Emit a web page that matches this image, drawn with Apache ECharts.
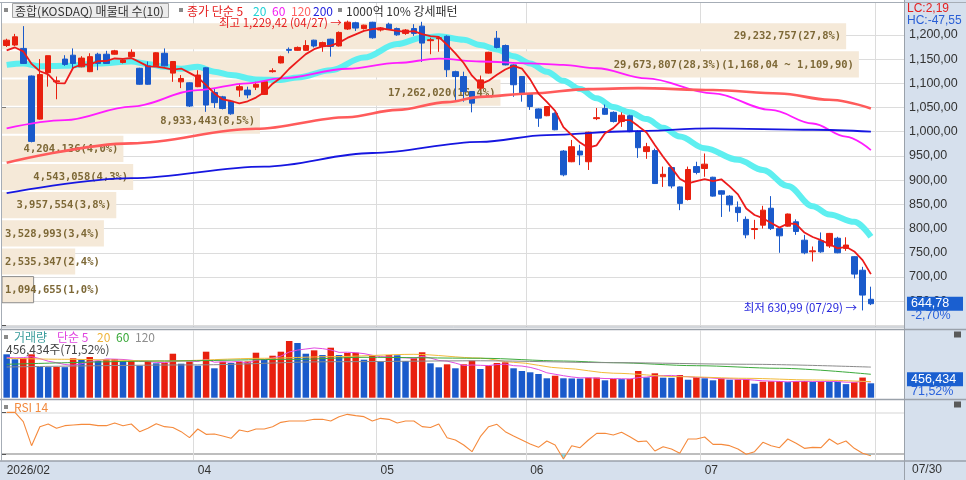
<!DOCTYPE html>
<html><head><meta charset="utf-8">
<script src="https://cdn.jsdelivr.net/npm/echarts@6/dist/echarts.min.js"></script>
<style>html,body{margin:0;padding:0;background:#fff}#c{width:966px;height:480px}</style>
</head><body><div id="c"></div>
<script>
// ---------------- DATA ----------------
const febDays = [26,27];
const marDays = [3,4,5,6,9,10,11,12,13,16,17,18,19,20,23,24,25,26,27,30,31];
const aprDays = [1,2,3,6,7,8,9,10,13,14,15,16,17,20,21,22,23,24,27,28,29,30];
const mayDays = [4,6,7,8,11,12,13,14,15,18,19,20,21,22,26,27,28,29];
const junDays = [1,2,4,5,8,9,10,11,12,15,16,17,18,19,22,23,24,25,26,29,30];
const julDays = [1,2,3,6,7,8,9,10,13,14,15,16,20,21,22,23,24,27,28,29,30];

const opens = [1178,1179,1172,1115,1026,1122,1103,1150,1158,1134, 1124,1160,1160,1160,1143,1155,1131,1136,1136,1162,
 1121,1103,1101,1093,1132,1081,1072,1063,1086,1086, 1092,1077,1124,1142,1170,1168,1168,1189,1176,1191,
 1177,1212,1225,1213,1226,1210,1222,1213,1203,1213, 1218,1188,1192,1197,1124,1114,1083,1090,1121,1193,
 1178,1138,1114,1077,1047,1033,1038,960,938,960, 938,1027,1048,1040,1021,1033,1001,959,961,907,
 926,886,860,928,924,906,878,867,844,819, 798,807,842,800,805,814,776,752,775,764, 780,759,742,714,654];
const highs = [1192,1202,1218,1116,1150,1157,1114,1158,1172,1156, 1162,1163,1167,1169,1150,1170,1132,1145,1164,1172,
 1146,1117,1102,1127,1133,1090,1074,1064,1100,1093, 1103,1105,1131,1157,1174,1176,1189,1190,1186,1192,
 1207,1229.42,1227,1221,1227,1216,1225,1215,1212,1222, 1227,1194,1197,1199,1126,1124,1084,1116,1165,1208,
 1180,1139,1115,1078,1048,1053,1040,962,983,973, 1000,1049,1056,1042,1040,1035,1003,977,965,928,
 928,887,928,938,955,907,879,869,856,825, 818,847,867,801,831,819,787,763,792,791, 783,782,743,721,680];
const lows = [1175,1177,1140,978,1025,1093,1067,1136,1129,1133, 1123,1127,1140,1159,1141,1154,1097,1097,1134,1135,
 1103,1090,1051,1092,1041,1049,1046,1035,1072,1069, 1086,1076,1122,1141,1162,1167,1167,1174,1165,1155,
 1176,1210,1208,1211,1192,1207,1210,1198,1200,1198, 1144,1160,1165,1113,1063,1062,1040,1086,1120,1172,
 1137,1072,1062,1045,1010,1032,1003,908,937,931, 921,1024,1035,1019,1010,999,946,944,892,886,
 883,838,858,912,907,866,824,835,814,780, 778,800,797,750,804,787,747,732,750,760, 749,754,697,630.99,642];
const closes = [1189,1196,1141,980,1118,1157,1105,1139,1141,1152, 1155,1141,1141,1167,1148,1164,1098,1098,1163,1136,
 1145,1110,1053,1117,1055,1060,1048,1037,1093,1076, 1098,1103,1126,1155,1168,1174,1178,1177,1184,1176,
 1205,1226.18,1214,1220,1194,1214,1212,1200,1210,1203, 1183,1190,1194,1128,1114,1083,1059,1107,1164,1174,
 1138,1097,1079,1052,1028,1052,1004,911,969,952, 999,1029,1036,1021,1034,1000,967,969,893,912,
 888,852,922,916,933,867,871,849,833,787, 800,838,800,785,830,794,750,754,752,790, 750,766,706,662.67,644.78];

const volumes = [1375000,1217000,1249000,1375000,973000,970000,975000,968000,1249000,1217000,
 1290000,1163000,1217000,1225000,1163000,1170000,1014000,1163000,1090000,1110000,
 1394000,1078000,1141000,1014000,1458000,932000,1141000,1099000,1141000,1150000,
 1426000,1227000,1331000,1458000,1797000,1733000,1394000,1501000,1352000,1585000,
 1352000,1416000,1425000,1204000,1331000,1131000,1352000,1345000,1163000,1249000,
 1440000,1090000,963000,1058000,932000,1058000,1173000,909000,1014000,1099000,
 1122000,932000,846000,805000,751000,615000,697000,615000,610000,605000,
 634000,638000,551000,593000,590000,596000,846000,646000,773000,634000,
 630000,719000,570000,656000,615000,551000,615000,570000,575000,580000,
 444000,507000,520000,530000,500000,520000,530000,500000,520000,510000,
 500000,430000,490000,638190,456434];

const rsi14 = [70.2,70.2,59,30.2,53,56.2,51,54.2,55,55.8, 55.8,54.2,54.2,57.4,54.2,56.2,47,51,56.6,53,
 52,47,39.8,50.2,43.8,44.2,41.8,39,49,47, 50.2,50.2,53,58.2,59.8,59.8,60,61.8,61.8,59.8,
 65,67.8,66.2,65,59.8,63,61.8,57.5,59.8,59.8, 53,52,56.2,39.8,37,31,23,41,53,55.8,
 47,41.8,37,32.2,28.2,35.8,31,14.2,30.2,27.8, 37,45,45,43,46.2,41,35,35.8,23.8,29,
 26.2,21,38.2,38.2,40.6,31.8,31.8,30.2,26.2,19.8, 23,34.2,30.2,27.8,38.2,33,27,28.2,27.8,38.2,
 31.8,35.8,27,21,18.2];

// moving averages as [barIndex, value]
const ma5Head = [1168,1174,1166,1140];
const ma20Pts = [[0,1138],[2,1141],[4,1135],[7,1136],[11,1141],[15,1145],[17,1140],[19,1134],[21,1130],[23,1134],[25,1124],[27,1117],[30,1108],[33,1107],[35,1112],[39,1127],[43,1153],[47,1181],[50,1194],[52,1197],[55,1190],[57,1179],[59,1170],[61,1156],[63,1141],[65,1124],[67,1105],[69,1088],[71,1069],[73,1051],[75,1040],[77,1026],[79,1008],[81,990],[84,966],[88,942],[91,921],[94,888],[97,846],[99,829],[102,814],[104,783]];
const ma60Pts = [[0,1007],[7,1024],[15,1052],[23,1086],[29,1100],[33,1110],[41,1130],[47,1142],[52,1151],[57,1145],[63,1141],[67,1138],[71,1131],[77,1110],[85,1079],[92,1045],[97,1017],[101,990],[104,962]];
const ma120Pts = [[0,936],[15,976],[30,1006],[41,1030],[47,1045],[53,1061],[57,1072],[63,1079],[70,1088],[76,1090],[85,1086],[93,1079],[99,1066],[104,1048]];
const ma200Pts = [[0,873],[15,904],[31,928],[44,956],[57,979],[65,993],[75,1001],[85,1007],[97,1004],[104,1000]];

const volMa5Head = [1280000,1260000,1270000,1300000];
const volMa20Pts = [[0,1249000],[7,1217000],[19,1163000],[31,1249000],[39,1300000],[49,1375000],[57,1256000],[61,1121000],[67,932000],[73,776000],[81,666000],[89,614000],[97,562000],[104,508000]];
const volMa60Pts = [[0,1058000],[19,1163000],[35,1217000],[43,1280000],[57,1250000],[67,1163000],[73,1110000],[83,1014000],[93,932000],[104,742000]];
const volMa120Pts = [[0,973000],[23,1040000],[39,1140000],[57,1170000],[73,1110000],[89,1060000],[104,970000]];

// volume profile (매물대) : 10 price bands, top to bottom
const bandEdges = [1226.18,1168.04,1109.90,1051.76,993.62,935.48,877.34,819.20,761.06,702.92,644.78];
const bandVols = [29232757,29673807,17262020,8933443,4204136,4543058,3957554,3528993,2535347,1094655];

const priceTicks = [650,700,750,800,850,900,950,1000,1050,1100,1150,1200];
const RSI_HI = 70, RSI_MID = 50, RSI_LO = 20;

// ---------------- HELPERS ----------------
function fmtNum(v, d){
  const s = Math.abs(v).toFixed(d); const parts = s.split('.');
  const g = parts[0].replace(/\B(?=(\d{3})+(?!\d))/g, ',');
  return (v < 0 ? '-' : '') + g + (parts[1] ? ',' + parts[1] : '');
}
function movingAvg(src, n, head){
  return src.map((v,i)=>{ if (i < n-1) return head[i]; let s=0; for(let j=i-n+1;j<=i;j++) s+=src[j]; return +(s/n).toFixed(2); });
}
const mctx = document.createElement('canvas').getContext('2d');
function textW(s, font){ mctx.font = font; return mctx.measureText(s).width; }

const cats = [];
[[2,febDays],[3,marDays],[4,aprDays],[5,mayDays],[6,junDays],[7,julDays]].forEach(([m,days])=>{
  days.forEach(d=>cats.push('2026/' + String(m).padStart(2,'0') + '/' + String(d).padStart(2,'0')));
});
const N = cats.length;
const showMonth = []; let lastShown = -100;
cats.forEach((c,i)=>{
  const isStart = i===0 || c.slice(5,7)!==cats[i-1].slice(5,7);
  if (isStart && i-lastShown >= 8){ showMonth[i]=true; lastShown=i; } else showMonth[i]=false;
});

const RED = '#e8200e', BLUE = '#1a5acb';
const KF = '"Noto Sans CJK KR", sans-serif';
const NF = '"Liberation Sans", Arial, sans-serif';
const NFN = '"Liberation Sans Narrow", "Liberation Sans", Arial, sans-serif';
const VP_FONT = 'bold 10.5px "DejaVu Sans Mono", monospace';
const GRID_C = '#dcdcdc';

const ma5 = movingAvg(closes, 5, ma5Head);
const volMa5 = movingAvg(volumes, 5, volMa5Head);
const ohlc = opens.map((o,i)=>[o, closes[i], lows[i], highs[i]]);
const volData = volumes.map((v,i)=>({value:v, itemStyle:{color: (i>0 && v>volumes[i-1]) ? RED : BLUE}}));

const lastClose = closes[N-1], prevClose = closes[N-2];
const maxHigh = Math.max(...highs), iMax = highs.indexOf(maxHigh);
const minLow = Math.min(...lows), iMin = lows.indexOf(minLow);
const VP_TOTAL = bandVols.reduce((a,b)=>a+b,0);
const vpMaxK = bandVols.indexOf(Math.max(...bandVols));
let curK = 0; bandEdges.forEach((e,k)=>{ if (k<bandVols.length && lastClose<=bandEdges[k] && lastClose>=bandEdges[k+1]) curK=k; });
const VPMAX = Math.max(...bandVols)/0.95;

// layout
const PMIN = 596.76, PMAX = 1265.77, MAIN_TOP = 3, MAIN_H = 324;
const pxPer = MAIN_H/(PMAX-PMIN);
const G0top = MAIN_TOP + (PMAX-priceTicks[priceTicks.length-1])*pxPer;
const G0h = (priceTicks[priceTicks.length-1]-600)*pxPer;
const RMIN = 13, RMAX = 85, R_TOP = 400, R_H = 60;
const rPx = R_H/(RMAX-RMIN);
const G5top = R_TOP + (RMAX-RSI_HI)*rPx, G5h = (RSI_HI-RSI_LO)*rPx;
const V_TOP = 330.5, V_H = 67.2, VOLMAX = V_H*31690;

function mmdd(c){ return c.slice(5); }

function renderProfile(params, api){
  const v = api.value(0), top = api.value(1), bot = api.value(2), k = api.value(3);
  const p0 = api.coord([0, top]), p1 = api.coord([v, bot]);
  const x0 = p0[0], y0 = p0[1]+1, x1 = p1[0], y1 = p1[1]-1;
  const pct = (v/VP_TOTAL*100).toFixed(1).replace('.', ',');
  let label = fmtNum(v,0) + '(' + pct + '%)';
  if (k === vpMaxK) label += '(' + fmtNum(top,2) + ' ~ ' + fmtNum(bot,2) + ')';
  const w = textW(label, VP_FONT);
  const fits = w + 8 <= (x1-x0);
  const tx = fits ? x1-5 : x0+3;
  return {type:'group', children:[
    {type:'rect', shape:{x:x0, y:y0, width:x1-x0, height:y1-y0},
     style:{fill:'#f5e9d8', stroke: k===curK ? '#8c8c8c' : null, lineWidth:1}},
    {type:'text', style:{text:label, x:tx, y:(y0+y1)/2+0.5, font:VP_FONT, fill:'#7d6836',
      textAlign: fits?'right':'left', align: fits?'right':'left', textVerticalAlign:'middle', verticalAlign:'middle'}}
  ]};
}
function renderRsiFill(params, api){
  const i = api.value(0), a = api.value(1), b = api.value(2), t = RSI_LO;
  if (a >= t && b >= t) return null;
  const pa = api.coord([i, a]), pb = api.coord([i+1, b]);
  const yt = api.coord([i, t])[1];
  const lx = f => pa[0] + (pb[0]-pa[0])*f;
  let pts;
  if (a < t && b < t) pts = [[pa[0],yt], pa, pb, [pb[0],yt]];
  else if (a < t) { const f=(t-a)/(b-a); pts=[[pa[0],yt], pa, [lx(f),yt]]; }
  else { const f=(a-t)/(a-b); pts=[[lx(f),yt], pb, [pb[0],yt]]; }
  return {type:'polygon', shape:{points:pts}, style:{fill:'#72d0e2'}};
}

const catSplit = {show:true, interval:(i)=>showMonth[i] && i>0, lineStyle:{color:GRID_C, width:1}};
function catAxis(grid, labels){
  return {gridIndex:grid, type:'category', data:cats, boundaryGap:true,
    axisLine:{show:false}, axisTick:{show:false},
    axisLabel: labels ? {show:true, interval:(i)=>showMonth[i], align:'left', margin:5, color:'#333', fontSize:12, fontFamily:NF,
       formatter:(val,idx)=> idx===0 ? val.slice(0,7) : val.slice(5,7)} : {show:false},
    splitLine:catSplit};
}
function lineS(data, color, width, xi, yi, z, smooth){
  return {type:'line', xAxisIndex:xi, yAxisIndex:yi, data, symbol:'none', showSymbol:false, silent:true,
    smooth: smooth||false, smoothMonotone:'x', lineStyle:{color, width}, z};
}

// static graphics
function T(id, x, y, text, fill, size, family, align){
  return {type:'text', id, z:60, x, y, silent:true, style:{text, fill, font: size+'px '+family,
    textAlign:align||'left', align:align||'left', textVerticalAlign:'middle', verticalAlign:'middle'}};
}
function Ln(id, x1, y1, x2, y2, c, w){ return {type:'line', id, z:55, silent:true, shape:{x1,y1,x2,y2}, style:{stroke:c||'#a6adb6', lineWidth:w||1}}; }
function Rc(id, x, y, w, h, fill, stroke, z){ return {type:'rect', id, z: z===undefined?58:z, silent:true, shape:{x,y,width:w,height:h}, style:{fill, stroke:stroke||null, lineWidth:1}}; }

const lc = (lastClose-minLow)/minLow*100, hc = (lastClose-maxHigh)/maxHigh*100;
const chgPct = (lastClose-prevClose)/prevClose*100;
const volPct = volumes[N-1]/volumes[N-2]*100;

const graphics = [
  Rc('rs', 904.5, 0, 62, 480, '#d6e0ed', null, -20),
  Rc('bs', 0, 461, 966, 19, '#d6e0ed', null, -20),
  Ln('l1', 0, 2.5, 966, 2.5), Ln('l2', 2, 327, 904.5, 327), Ln('l3', 0, 329.5, 966, 329.5, '#9aa1aa', 1.5),
  Ln('l4', 0, 399.5, 966, 399.5, '#9aa1aa', 1.5), Ln('l5', 0, 461, 966, 461, '#9aa1aa', 1.5),
  Ln('l6', 1.5, 2.5, 1.5, 461), Ln('l7', 904.5, 0, 904.5, 480, '#9aa1aa', 1),
  // top legend
  Rc('sq1', 4, 8, 4, 4, '#8a8a8a'), Rc('box1', 12.5, 3.5, 156, 14, '#ececec', '#a5a5a5'),
  T('t1', 15, 11, '종합(KOSDAQ) 매물대 수(10)', '#333', 12, KF),
  Rc('sq2', 179, 8, 4, 4, '#8a8a8a'),
  T('t2', 187, 11, '종가 단순 5', '#e62020', 12, KF),
  T('t3', 253, 11, '20', '#21d2d6', 12, KF), T('t4', 272, 11, '60', '#f21ef2', 12, KF),
  T('t5', 291, 11, '120', '#ff6262', 12, KF), T('t6', 313, 11, '200', '#2222dd', 12, KF),
  Rc('sq3', 338, 8, 4, 4, '#8a8a8a'),
  T('t7', 346, 11, '1000억 10% 강세패턴', '#333', 12, KF),
  T('lc', 907, 9, 'LC:' + fmtNum(lc,2), '#e62020', 12, NF),
  T('hc', 907, 20.5, 'HC:' + fmtNum(hc,2), '#2a5fd6', 12, NF),
  // volume legend
  Rc('sq4', 4, 335, 4, 4, '#8a8a8a'),
  T('v1', 14, 337, '거래량', '#3a9c9c', 12, KF), T('v2', 57, 337, '단순 5', '#e046e0', 12, KF),
  T('v3', 97, 337, '20', '#efb43a', 12, KF), T('v4', 116, 337, '60', '#38a838', 12, KF),
  T('v5', 135, 337, '120', '#8e8e8e', 12, KF),
  T('v6', 6, 349, fmtNum(volumes[N-1],0) + '주(' + fmtNum(volPct,2) + '%)', '#444', 12, KF),
  Rc('ic1', 954, 331.5, 7, 6, '#5a5a5a'), Rc('ic2', 954, 401.5, 7, 6, '#5a5a5a'),
  // rsi legend
  Rc('sq5', 4, 405, 4, 4, '#8a8a8a'),
  T('r1', 14, 407, 'RSI 14', '#f28a3e', 12, KF),
  T('d1', 912, 470, mmdd(cats[N-1]), '#333', 12, NF),
];

const chart = echarts.init(document.getElementById('c'), null, {renderer:'canvas'});
const option = {
  animation:false,
  backgroundColor:'#ffffff',
  grid:[
    {left:2, width:902, top:G0top, height:G0h, outerBoundsMode:'none'},
    {left:2.5, width:872.55, top:MAIN_TOP, height:MAIN_H, outerBoundsMode:'none'},
    {left:2, width:902, top:MAIN_TOP, height:MAIN_H, outerBoundsMode:'none'},
    {left:2.5, width:872.55, top:V_TOP, height:V_H, outerBoundsMode:'none'},
    {left:2.5, width:872.55, top:R_TOP, height:R_H, outerBoundsMode:'none'},
    {left:2, width:902, top:G5top, height:G5h, outerBoundsMode:'none'}
  ],
  xAxis:[
    {gridIndex:0, type:'value', min:0, max:1, show:false},
    catAxis(1,false),
    {gridIndex:2, type:'value', min:0, max:VPMAX, show:false},
    catAxis(3,false),
    catAxis(4,true),
    {gridIndex:5, type:'value', min:0, max:1, show:false}
  ],
  yAxis:[
    {gridIndex:0, type:'value', position:'right', min:600, max:priceTicks[priceTicks.length-1], interval:50,
     axisLine:{show:false}, axisTick:{show:true, length:4, lineStyle:{color:'#555'}},
     axisLabel:{margin:5, color:'#333', fontSize:12.5, fontFamily:NFN, formatter:(v)=> priceTicks.indexOf(v)>=0 ? fmtNum(v,2) : ''},
     splitLine:{show:true, lineStyle:{color:GRID_C, width:1}}},
    {gridIndex:1, type:'value', min:PMIN, max:PMAX, show:false},
    {gridIndex:2, type:'value', min:PMIN, max:PMAX, show:false},
    {gridIndex:3, type:'value', min:0, max:VOLMAX, show:false},
    {gridIndex:4, type:'value', min:RMIN, max:RMAX, show:false},
    {gridIndex:5, type:'value', position:'right', min:RSI_LO, max:RSI_HI, interval:RSI_MID,
     axisLine:{show:false}, axisTick:{show:true, length:4, lineStyle:{color:'#555'}},
     axisLabel:{margin:5, color:'#333', fontSize:12.5, fontFamily:NFN, formatter:(v)=> v===RSI_MID ? fmtNum(v,2) : ''},
     splitLine:{show:true, lineStyle:{color:['#a9a9a9','#e3e3e3','#a9a9a9'], width:1.5}}}
  ],
  series:[
    {type:'custom', xAxisIndex:2, yAxisIndex:2, z:1, silent:true, clip:false,
     data: bandVols.map((v,k)=>[v, bandEdges[k], bandEdges[k+1], k]),
     encode:{x:0, y:[1,2]}, renderItem:renderProfile},
    lineS(ma20Pts, '#5eeff0', 6, 1, 1, 2, 0.35),
    {type:'candlestick', xAxisIndex:1, yAxisIndex:1, data:ohlc, barWidth:6, z:3, silent:true,
     itemStyle:{color:RED, color0:BLUE, borderColor:RED, borderColor0:BLUE, borderColorDoji:RED, borderWidth:1},
     markPoint:{symbol:'circle', symbolSize:1, silent:true, itemStyle:{color:'rgba(0,0,0,0)'},
       label:{show:true, position:'left', distance:5, fontSize:11.5, fontFamily:KF},
       data:[
         {coord:[iMax, maxHigh], label:{formatter:'최고 ' + fmtNum(maxHigh,2) + ' (' + mmdd(cats[iMax]) + ') →', color:'#e62020', offset:[0,2]}},
         {coord:[iMin, minLow], label:{formatter:'최저 ' + fmtNum(minLow,2) + ' (' + mmdd(cats[iMin]) + ') →', color:'#2424dc', offset:[0,-3]}}
       ]}},
    lineS(ma60Pts, '#ff1cff', 1.8, 1, 1, 4, 0.35),
    lineS(ma120Pts, '#ff5b5b', 2.6, 1, 1, 4, 0.35),
    lineS(ma200Pts, '#1616e0', 1.8, 1, 1, 4, 0.35),
    lineS(ma5, '#ec1b1b', 1.8, 1, 1, 5, false),
    {type:'bar', xAxisIndex:3, yAxisIndex:3, data:volData, barWidth:6.5, z:2, silent:true},
    lineS(volMa5, '#e24ce2', 1, 3, 3, 4, false),
    lineS(volMa20Pts, '#f2bb3a', 1, 3, 3, 4, 0.3),
    lineS(volMa60Pts, '#3caa3c', 1, 3, 3, 4, 0.3),
    lineS(volMa120Pts, '#8a8a8a', 1, 3, 3, 4, 0.3),
    {type:'custom', xAxisIndex:4, yAxisIndex:4, z:2, silent:true,
     data: rsi14.slice(0,-1).map((v,i)=>[i, v, rsi14[i+1]]), encode:{x:0, y:1}, renderItem:renderRsiFill},
    lineS(rsi14, '#f58a3c', 1.1, 4, 4, 3, false)
  ],
  graphic:{elements:graphics}
};
chart.setOption(option);

// value boxes on the right axis, placed at the last close / last volume
const yLast = chart.convertToPixel({gridIndex:1}, [N-1, lastClose])[1];
const yVol = chart.convertToPixel({gridIndex:3}, [N-1, volumes[N-1]])[1] - 4;
chart.setOption({graphic:{elements:[
  Rc('pb', 907, yLast-7, 56, 14, '#1a5fd0', null, 70),
  Object.assign(T('pt', 911, yLast, fmtNum(lastClose,2), '#ffffff', 12.5, NF), {z:71}),
  T('pp', 911, yLast+12, fmtNum(chgPct,2) + '%', '#2a62dc', 12.5, NF),
  Rc('vb', 907, yVol-7, 56, 14, '#1a5fd0', null, 70),
  Object.assign(T('vt', 911, yVol, fmtNum(volumes[N-1],0), '#ffffff', 12.5, NF), {z:71}),
  T('vp', 911, yVol+12, fmtNum(volPct,2) + '%', '#2a62dc', 12.5, NF)
]}});
</script></body></html>
